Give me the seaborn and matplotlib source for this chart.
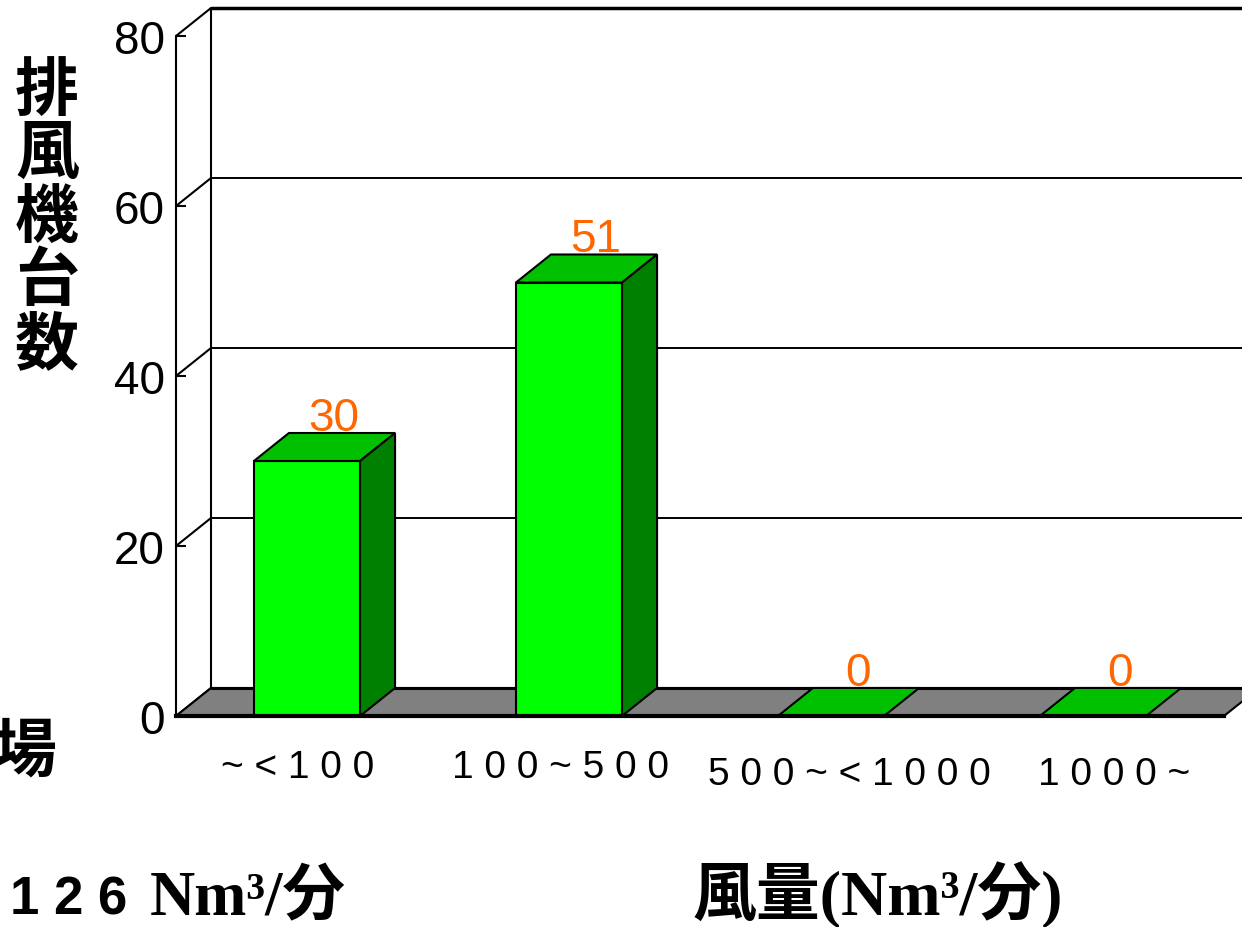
import matplotlib
matplotlib.use("Agg")
import matplotlib.pyplot as plt
from matplotlib.patches import Polygon
from matplotlib import transforms as mtransforms
import numpy as np
import pandas as pd
import seaborn as sns

# ---------------- data ----------------
categories = ["～＜１００", "１００～５００", "５００～＜１０００", "１０００～"]
tick_labels = ["~ < 1 0 0", "1 0 0 ~ 5 0 0", "5 0 0 ~ < 1 0 0 0", "1 0 0 0 ~"]
counts = [30, 51, 0, 0]
y_ticks = [0, 20, 40, 60, 80]
y_label_chars = "排風機台数"
x_title = "風量(Nm³/分)"
total_value = "1 2 6"
total_unit = "Nm³/分"
side_note = "場"

# label nudges (pixels) to follow the reference's placement
label_nudge = [(-9, 0), (-8, 0), (18, -7), (21, -7)]

sns.set_theme(style="white")
plt.rcParams["font.family"] = ["Liberation Sans", "Noto Sans CJK JP", "DejaVu Sans"]
plt.rcParams.update({"text.color": "black", "xtick.color": "black",
                     "ytick.color": "black", "axes.edgecolor": "black",
                     "axes.labelcolor": "black"})

W, H = 1242, 928
fig = plt.figure(figsize=(W / 100, H / 100), dpi=100)
fig.patch.set_facecolor("white")
ax = fig.add_axes([176 / W, (H - 717) / H, 1048 / W, 680 / H])

df = pd.DataFrame({"category": categories, "count": counts})
sns.barplot(data=df, x="category", y="count", ax=ax, width=0.405,
            color="#00FF00", saturation=1, edgecolor="black", linewidth=1.5)
ax.set_xlim(-0.5, 3.5)
ax.set_ylim(0, 80)
ax.set_xlabel("")
ax.set_ylabel("")
ax.patch.set_visible(False)

# depth of the pseudo-3D effect (pixels -> data units)
p0 = ax.transData.transform((0, 0))
p1 = ax.transData.transform((1, 1))
ddx = 35 / (p1[0] - p0[0])
ddy = 28 / (p1[1] - p0[1])

x_lo, x_hi = ax.get_xlim()
y_top = ax.get_ylim()[1]

# back wall
for v in y_ticks[1:]:
    lw = 2.5 if v == y_top else 1.4
    ax.plot([x_lo + ddx, x_hi + 2 * ddx], [v + ddy, v + ddy], color="black",
            lw=lw, clip_on=False, zorder=0.5, solid_capstyle="butt")
ax.plot([x_lo + ddx, x_lo + ddx], [ddy, y_top + ddy], color="black", lw=1.5,
        clip_on=False, zorder=0.5)
for v in y_ticks:
    ax.plot([x_lo, x_lo + ddx], [v, v + ddy], color="black", lw=1.5,
            clip_on=False, zorder=0.6)

# floor
floor = Polygon([(x_lo, 0), (x_hi, 0), (x_hi + ddx, ddy), (x_lo + ddx, ddy)],
                closed=True, facecolor="#808080", edgecolor="black", lw=1.5,
                clip_on=False, zorder=1)
bars = list(ax.patches)
ax.add_patch(floor)
ax.plot([x_lo + ddx, x_hi + ddx], [ddy, ddy], color="black", lw=2.2,
        clip_on=False, zorder=1.1)

# bars: front (seaborn) + top + side
for p in bars:
    p.set_zorder(5)
    x = p.get_x()
    w = p.get_width()
    h = p.get_height()
    top = Polygon([(x, h), (x + w, h), (x + w + ddx, h + ddy), (x + ddx, h + ddy)],
                  closed=True, facecolor="#00C000", edgecolor="black", lw=1.5,
                  clip_on=False, zorder=6)
    ax.add_patch(top)
    if h > 0:
        side = Polygon([(x + w, 0), (x + w + ddx, ddy), (x + w + ddx, h + ddy), (x + w, h)],
                       closed=True, facecolor="#008000", edgecolor="black", lw=1.5,
                       clip_on=False, zorder=6)
        ax.add_patch(side)

# value labels
for i, v in enumerate(counts):
    ax.annotate(str(v), (i, v), xytext=(27 * 0.72, 31 * 0.72),
                textcoords="offset points", ha="center", va="baseline",
                color="#FF6600", fontsize=33, family="Liberation Sans",
                zorder=8, annotation_clip=False)

# spines
for s in ("top", "right"):
    ax.spines[s].set_visible(False)
ax.spines["left"].set_linewidth(1.5)
ax.spines["bottom"].set_linewidth(3)
ax.spines["bottom"].set_zorder(9)

# y ticks
ax.set_yticks(y_ticks)
ax.tick_params(axis="y", direction="in", length=7.5, width=1.5, pad=8,
               labelsize=33, left=True)

# x ticks
ax.set_xticks(range(len(categories)))
ax.set_xticklabels(tick_labels, fontsize=28, family="Liberation Sans")
ax.tick_params(axis="x", which="major", length=0, pad=24)
ax.set_xticks([0.5, 1.5, 2.5, 3.5], minor=True)
ax.tick_params(axis="x", which="minor", direction="in", length=8, width=1.5,
               bottom=True)
for lab, (nx, ny) in zip(ax.get_xticklabels(), label_nudge):
    lab.set_transform(lab.get_transform() +
                      mtransforms.ScaledTranslation(nx / 100, ny / 100, fig.dpi_scale_trans))

# y label (vertical stacked)
fig.text(47 / W, 1 - 218 / H, "\n".join(y_label_chars), ha="center", va="center",
         fontsize=46, fontweight="bold", family=["Noto Sans CJK JP"], linespacing=0.96)
fig.text(56 / W, 1 - 752 / H, side_note, ha="right", va="center",
         fontsize=46, fontweight="bold", family=["Noto Sans CJK JP"])

# bottom texts
fig.text(10 / W, (H - 915) / H, total_value, ha="left", va="baseline",
         fontsize=38, fontweight="bold", family="Liberation Sans")
fig.text(150 / W, (H - 915) / H, total_unit, ha="left", va="baseline",
         fontsize=45, fontweight="bold", family=["Liberation Serif", "Noto Sans CJK JP"])
fig.text(693 / W, (H - 915) / H, x_title, ha="left", va="baseline",
         fontsize=46, fontweight="bold", family=["Liberation Serif", "Noto Sans CJK JP"])

fig.savefig("out.png", dpi=100, facecolor="white")
